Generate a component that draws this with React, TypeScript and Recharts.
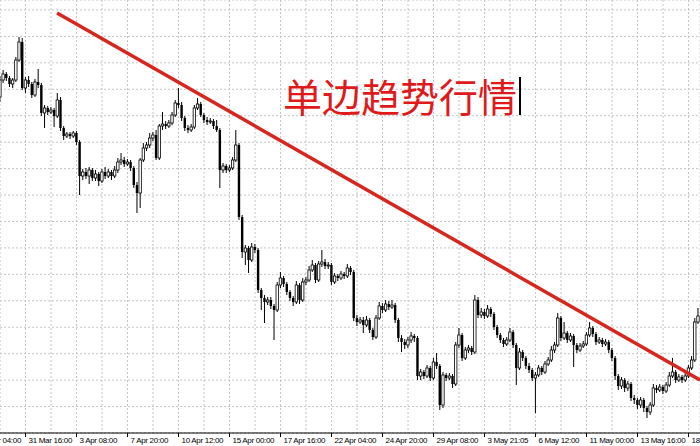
import { ComposedChart, Bar, XAxis, YAxis, CartesianGrid, ReferenceLine } from "recharts";

// H4 candles, price in points. Each bar opens at the previous close.
const FIRST_OPEN = 403;

const CLOSES = [
  420, 426, 422, 416, 420, 440, 458, 412, 420, 416, 405, 418, 415, 387, 392, 388, 390, 384, 400, 372,
  364, 366, 364, 367, 358, 324, 328, 324, 330, 322, 326, 319, 328, 324, 328, 324, 330, 338, 340, 336,
  338, 332, 315, 307, 340, 352, 355, 362, 365, 342, 374, 376, 374, 377, 385, 397, 395, 382, 372, 370,
  373, 392, 396, 385, 380, 378, 379, 374, 370, 330, 334, 330, 332, 340, 355, 283, 248, 252, 240, 253,
  250, 210, 202, 198, 200, 194, 190, 215, 222, 216, 208, 202, 198, 215, 200, 218, 220, 230, 235, 220,
  236, 238, 234, 235, 218, 224, 222, 226, 224, 232, 228, 182, 178, 180, 175, 180, 170, 163, 182, 194,
  190, 196, 193, 195, 180, 162, 158, 155, 160, 164, 162, 124, 128, 124, 132, 122, 138, 134, 95, 125,
  122, 124, 116, 155, 165, 142, 150, 152, 148, 200, 185, 188, 184, 191, 186, 173, 165, 160, 156, 160,
  168, 155, 132, 148, 142, 134, 130, 122, 125, 132, 128, 136, 140, 150, 155, 182, 162, 167, 160, 164,
  155, 150, 154, 156, 165, 172, 166, 158, 160, 156, 158, 150, 142, 124, 114, 120, 112, 116, 102, 100,
  95, 100, 92, 88, 95, 112, 110, 113, 109, 115, 124, 128, 120, 123, 120, 124, 132, 140, 178, 184,
];

const HIGHS = [
  424, 430, 428, 424, 422, 443, 463, 462, 423, 424, 418, 421, 431, 417, 395, 394, 393, 392, 407, 403,
  374, 368, 368, 369, 369, 360, 331, 332, 333, 332, 330, 328, 331, 333, 331, 330, 334, 342, 347, 343,
  341, 340, 334, 318, 342, 357, 358, 367, 368, 370, 376, 388, 379, 380, 388, 400, 412, 398, 384, 375,
  376, 395, 402, 398, 387, 383, 382, 381, 380, 372, 337, 336, 335, 343, 370, 357, 285, 255, 254, 257,
  256, 252, 212, 205, 203, 203, 196, 218, 228, 224, 218, 210, 204, 219, 217, 222, 223, 234, 240, 237,
  239, 250, 241, 238, 237, 227, 226, 229, 228, 236, 234, 230, 185, 183, 183, 184, 182, 172, 185, 198,
  197, 200, 199, 200, 197, 182, 165, 161, 163, 168, 166, 164, 131, 130, 135, 134, 142, 147, 136, 128,
  127, 127, 126, 158, 172, 167, 153, 155, 154, 205, 203, 192, 191, 195, 193, 188, 175, 167, 162, 163,
  172, 170, 157, 152, 150, 144, 137, 132, 128, 135, 134, 139, 143, 154, 158, 187, 184, 178, 169, 167,
  166, 157, 157, 159, 168, 178, 174, 168, 163, 162, 161, 160, 152, 144, 126, 123, 122, 119, 118, 105,
  102, 103, 102, 94, 98, 116, 115, 116, 115, 118, 128, 142, 130, 126, 125, 127, 135, 144, 182, 192,
];

const LOWS = [
  398, 417, 419, 413, 412, 418, 438, 410, 407, 413, 402, 403, 412, 384, 372, 385, 386, 373, 382, 369,
  360, 362, 361, 362, 355, 305, 320, 321, 316, 319, 319, 314, 317, 321, 322, 320, 322, 327, 335, 333,
  334, 329, 312, 287, 292, 338, 349, 352, 359, 340, 340, 370, 371, 372, 375, 383, 392, 379, 369, 367,
  368, 371, 390, 383, 377, 375, 376, 371, 368, 312, 327, 327, 328, 330, 338, 280, 242, 235, 227, 238,
  247, 207, 190, 177, 195, 191, 160, 188, 212, 213, 205, 199, 194, 196, 196, 198, 215, 218, 228, 217,
  218, 233, 231, 231, 215, 216, 219, 220, 221, 222, 225, 179, 174, 176, 167, 173, 167, 160, 161, 180,
  187, 188, 190, 191, 177, 158, 148, 151, 152, 157, 158, 120, 120, 121, 122, 119, 120, 131, 90, 92,
  119, 120, 112, 114, 152, 139, 140, 147, 145, 146, 182, 182, 181, 182, 183, 170, 162, 157, 153, 154,
  158, 152, 115, 130, 139, 131, 127, 119, 87, 123, 125, 126, 134, 138, 147, 153, 159, 160, 157, 158,
  133, 147, 148, 152, 154, 163, 163, 155, 156, 153, 154, 147, 139, 120, 110, 111, 108, 109, 99, 96,
  91, 92, 88, 82, 85, 93, 107, 108, 106, 107, 113, 122, 117, 118, 117, 118, 122, 130, 138, 176,
];

// Labels sit on every 16th bar, starting 8 bars before the first candle.
const TIME_LABELS = [
  "27 Mar 04:00",
  "31 Mar 16:00",
  "3 Apr 08:00",
  "7 Apr 20:00",
  "10 Apr 12:00",
  "15 Apr 00:00",
  "17 Apr 16:00",
  "22 Apr 04:00",
  "24 Apr 20:00",
  "29 Apr 08:00",
  "3 May 21:05",
  "6 May 12:00",
  "11 May 00:00",
  "13 May 16:00",
  "18 May 04:00",
];
const FIRST_LABEL_BAR = -8;
const LABEL_EVERY = 16;
const GRID_EVERY = 8;

// Hand-drawn trend line, in bar index / price
const TREND_LINE = [
  { x: 17.9, y: 487 },
  { x: 219.6, y: 120 },
];

const BAR_PX = 51 / 16;
const SHIFT = 60;
const CHART_W = 760;
const CHART_H = 446;
const AXIS_H = 13;
const X_MIN = -SHIFT / BAR_PX;
const X_MAX = X_MIN + CHART_W / BAR_PX;
const Y_MIN = 67;
const Y_MAX = 500;
const PRICE_GRID = 26.44;

const candles = CLOSES.map((close, i) => ({
  i,
  open: i === 0 ? FIRST_OPEN : CLOSES[i - 1],
  close,
  high: HIGHS[i],
  low: LOWS[i],
}));

const xTicks: number[] = [];
for (let v = -2 * GRID_EVERY; v <= X_MAX; v += GRID_EVERY) xTicks.push(v);

const yTicks: number[] = [];
for (let k = 1; k <= 16; k++) yTicks.push(Y_MIN + k * PRICE_GRID);

const Candle = (props: any) => {
  const { x, y, width, height, payload } = props;
  const { open, close, high, low } = payload;
  const top = Math.min(y, y + height);
  const h = Math.abs(height);
  const cx = x + width / 2;
  const k = high === low ? 0 : h / (high - low);
  const bodyTop = top + (high - Math.max(open, close)) * k;
  const bodyH = Math.max(Math.abs(open - close) * k, 1);
  const up = close >= open;
  return (
    <g>
      <line x1={cx} x2={cx} y1={top} y2={top + h} stroke="#000" strokeWidth={1} />
      <rect
        x={cx - 1.2}
        y={bodyTop}
        width={2.4}
        height={bodyH}
        fill={up ? "#fff" : "#000"}
        stroke="#000"
        strokeWidth={up ? 0.8 : 0}
      />
    </g>
  );
};

const TimeTick = (props: any) => {
  const { x, y, payload } = props;
  const offset = payload.value - FIRST_LABEL_BAR;
  if (offset % LABEL_EVERY !== 0) return <g />;
  const label = TIME_LABELS[offset / LABEL_EVERY] ?? "";
  return (
    <g>
      <line x1={x} x2={x} y1={y} y2={y + 4} stroke="#000" />
      <text
        x={x + 3}
        y={y + 10}
        fontSize={8}
        letterSpacing={-0.3}
        fontFamily="'Liberation Sans', sans-serif"
        fill="#000"
        textAnchor="start"
      >
        {label}
      </text>
    </g>
  );
};

export default function App() {
  return (
    <div
      style={{
        position: "absolute",
        left: -SHIFT,
        top: 0,
        width: CHART_W,
        height: CHART_H,
        background: "#fff",
      }}
    >
      <ComposedChart
        width={CHART_W}
        height={CHART_H}
        data={candles}
        margin={{ top: 0, right: 0, bottom: 0, left: 0 }}
      >
        <CartesianGrid stroke="#c4c4c4" strokeDasharray="2 2" />
        <XAxis
          dataKey="i"
          type="number"
          domain={[X_MIN, X_MAX]}
          allowDataOverflow
          ticks={xTicks}
          interval={0}
          height={AXIS_H}
          tickSize={0}
          tickMargin={0}
          tickLine={false}
          axisLine={{ stroke: "#000" }}
          tick={<TimeTick />}
        />
        <YAxis hide type="number" domain={[Y_MIN, Y_MAX]} allowDataOverflow ticks={yTicks} />
        <Bar
          dataKey={(d: any) => [d.low, d.high]}
          barSize={3}
          shape={<Candle />}
          isAnimationActive={false}
        />
        <ReferenceLine
          segment={TREND_LINE}
          stroke="#d7261e"
          strokeWidth={3.5}
          ifOverflow="visible"
        />
      </ComposedChart>
      <div
        style={{
          position: "absolute",
          left: SHIFT + 283,
          top: 73,
          fontFamily: "'Noto Sans CJK SC', sans-serif",
          fontSize: 39,
          lineHeight: "44px",
          color: "#e01a1b",
          whiteSpace: "nowrap",
        }}
      >
        单边趋势行情
      </div>
      <div
        style={{
          position: "absolute",
          left: SHIFT + 519,
          top: 77,
          width: 2,
          height: 38,
          background: "#000",
        }}
      />
    </div>
  );
}
